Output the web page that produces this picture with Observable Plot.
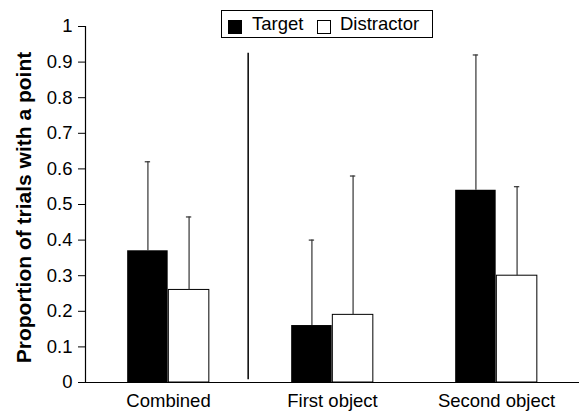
<!DOCTYPE html>
<html>
<head>
<meta charset="utf-8">
<script src="https://cdn.jsdelivr.net/npm/d3@7"></script>
<script src="https://cdn.jsdelivr.net/npm/@observablehq/plot@0.6"></script>
<style>
  html, body { margin: 0; padding: 0; background: white; }
  #wrap { position: relative; width: 585px; height: 411px; font-family: "Liberation Sans", Arial, sans-serif; }
  #legend { position: absolute; left: 221px; top: 10px; width: 210px; height: 26px; border: 1.5px solid black; background: white; font-size: 18.5px; color: black; }
  #legend .sw { position: absolute; width: 14px; height: 14px; box-sizing: border-box; }
  #legend .lb { position: absolute; top: 3px; line-height: 20px; }
</style>
</head>
<body>
<div id="wrap">
  <div id="chart"></div>
  <div id="legend"></div>
</div>
<script>
const categories = ["Combined", "First object", "Second object"];
const seriesNames = ["Target", "Distractor"];
const targetMean = [0.37, 0.16, 0.54];
const targetUpper = [0.62, 0.40, 0.92];
const distractorMean = [0.26, 0.19, 0.30];
const distractorUpper = [0.465, 0.58, 0.55];
const yTicks = [0, 0.1, 0.2, 0.3, 0.4, 0.5, 0.6, 0.7, 0.8, 0.9, 1];
const yLabel = "Proportion of trials with a point";
const separator = [{cat: "First object", y1: 0.008, y2: 0.925}];

const W = 585, H = 411, ML = 85, MR = 6;
const bw = (W - ML - MR) / categories.length;

const target = categories.map((c, i) => ({cat: c, v: targetMean[i], hi: targetUpper[i]}));
const distractor = categories.map((c, i) => ({cat: c, v: distractorMean[i], hi: distractorUpper[i]}));

const cap = 3;
const chart = Plot.plot({
  width: W, height: H,
  marginTop: 26, marginBottom: 29, marginLeft: ML, marginRight: MR,
  style: {fontFamily: "'Liberation Sans', Arial, sans-serif", fontSize: "18.5px", color: "black", background: "white"},
  x: {domain: categories, padding: 0, label: null, tickSize: 0, tickPadding: 11},
  y: {domain: [0, 1], ticks: yTicks, tickFormat: d3.format("~g"), tickSize: 7, tickPadding: 6, label: null},
  marks: [
    Plot.barY(target, {x: "cat", y: "v", fill: "black", insetLeft: bw / 4, insetRight: bw / 2}),
    Plot.barY(distractor, {x: "cat", y: "v", fill: "white", stroke: "black", strokeWidth: 1, insetLeft: bw / 2, insetRight: bw / 4}),
    Plot.ruleX(target, {x: "cat", y1: "v", y2: "hi", dx: -bw / 8, stroke: "#333", strokeWidth: 1.2}),
    Plot.ruleX(distractor, {x: "cat", y1: "v", y2: "hi", dx: bw / 8, stroke: "#333", strokeWidth: 1.2}),
    Plot.tickY(target, {x: "cat", y: "hi", insetLeft: 3 * bw / 8 - cap, insetRight: 5 * bw / 8 - cap, stroke: "#333", strokeWidth: 1.2}),
    Plot.tickY(distractor, {x: "cat", y: "hi", insetLeft: 5 * bw / 8 - cap, insetRight: 3 * bw / 8 - cap, stroke: "#333", strokeWidth: 1.2}),
    Plot.ruleX(separator, {x: "cat", y1: "y1", y2: "y2", dx: -bw / 2 - 2, stroke: "black", strokeWidth: 1.5}),
    Plot.ruleY([0], {stroke: "black", strokeWidth: 1.2}),
    Plot.frame({anchor: "left", stroke: "black", strokeWidth: 1.2}),
    Plot.text([yLabel], {text: d => d, frameAnchor: "left", textAnchor: "middle", rotate: -90, dx: -55, dy: 3, lineAnchor: "bottom", fontWeight: "bold", fontSize: 21})
  ]
});
document.getElementById("chart").appendChild(chart);

const legend = document.getElementById("legend");
const items = [
  {name: seriesNames[0], sw: 6, lb: 30, fill: "black"},
  {name: seriesNames[1], sw: 95, lb: 118, fill: "white"}
];
for (const it of items) {
  const s = document.createElement("div");
  s.className = "sw";
  s.style.left = it.sw + "px";
  s.style.top = "9px";
  s.style.background = it.fill;
  s.style.border = "1px solid black";
  legend.appendChild(s);
  const t = document.createElement("div");
  t.className = "lb";
  t.style.left = it.lb + "px";
  t.textContent = it.name;
  legend.appendChild(t);
}
</script>
</body>
</html>
